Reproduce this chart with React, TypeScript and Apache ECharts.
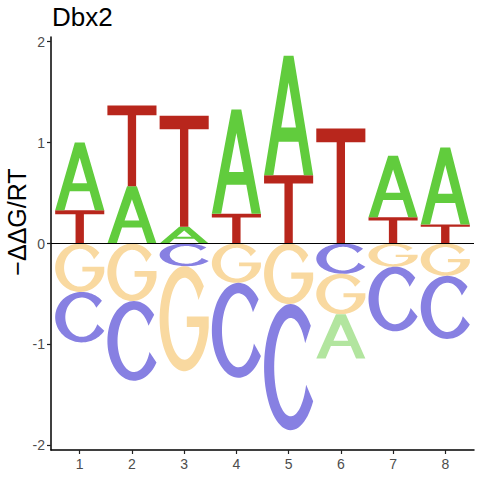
import React, { useEffect, useRef } from "react";
import * as echarts from "echarts";

// ---- data ----
const POSITIONS = [1, 2, 3, 4, 5, 6, 7, 8];
const LETTERS = ["A", "C", "G", "T"];
const A_VALUES = [0.67, 0.567, 0.165, 1.033, 1.185, -0.44, 0.61, 0.762];
const C_VALUES = [-0.5, -0.79, -0.225, -0.94, -1.25, -0.3, -0.64, -0.625];
const G_VALUES = [-0.48, -0.57, -1.04, -0.39, -0.6, -0.4, -0.23, -0.32];
const T_VALUES = [0.33, 0.8, 1.1, 0.294, 0.676, 1.139, 0.26, 0.188];
const Y_TICKS = [-2, -1, 0, 1, 2];
const TITLE = "Dbx2";
const Y_NAME = "\u2212\u0394\u0394G/RT";

const POS_COLORS = ["#61CC3D", "#8780E2", "#F3B341", "#B8261C"];
const NEG_COLORS = ["#B2E59F", "#8780E2", "#F9D9A0", "#DC9089"];

// ---- glyph outlines (unit box 0..100) ----
function arcPts(cx: number, cy: number, rx: number, ry: number, t0: number, t1: number, n: number) {
  const pts: string[] = [];
  for (let i = 0; i <= n; i++) {
    const t = ((t0 + ((t1 - t0) * i) / n) * Math.PI) / 180;
    pts.push((cx + rx * Math.cos(t)).toFixed(2) + "," + (cy + ry * Math.sin(t)).toFixed(2));
  }
  return pts;
}
function buildC() {
  const outer = arcPts(50, 50, 50, 50, -41, -327.3, 64);
  const inner = arcPts(50, 50, 31, 39, -339, -29, 64);
  return "M" + outer.join(" L") + " L" + inner.join(" L") + " Z";
}
function buildG() {
  const outer = arcPts(50, 50, 50, 50, -38, -350, 64);
  const end = (50 + 50 * Math.cos((10 * Math.PI) / 180)).toFixed(2);
  const tIn = Math.acos(30 / 32);
  const tInDeg = (tIn * 180) / Math.PI;
  const yIn = (50 + 39 * Math.sin(tIn)).toFixed(2);
  const inner = arcPts(50, 50, 32, 39, tInDeg - 360, -27, 64);
  return (
    "M" + outer.join(" L") +
    ` L${end},48 L55,48 L55,58 L80,58 L80,${yIn} L` +
    inner.join(" L") + " Z"
  );
}
const PATH_A =
  "M0,100 L40,0 L60,0 L100,100 L81,100 L70.2,72 L29.8,72 L19,100 Z M35,60 L65,60 L50,22.5 Z";
const PATH_T = "M0,0 L100,0 L100,12 L58.5,12 L58.5,100 L41.5,100 L41.5,12 L0,12 Z";
const LETTER_PATHS = [PATH_A, buildC(), buildG(), PATH_T];

const LETTER_WIDTH = 0.94;

function buildItems() {
  const all = [A_VALUES, C_VALUES, G_VALUES, T_VALUES];
  const items: number[][] = [];
  POSITIONS.forEach((p, i) => {
    const vals = all.map((arr, li) => ({ li, v: arr[i] }));
    const pos = vals.filter((d) => d.v > 0).sort((a, b) => a.v - b.v);
    const neg = vals.filter((d) => d.v < 0).sort((a, b) => b.v - a.v);
    let acc = 0;
    pos.forEach((d) => {
      items.push([p, acc, acc + d.v, d.li, 0]);
      acc += d.v;
    });
    acc = 0;
    neg.forEach((d) => {
      items.push([p, acc, acc + d.v, d.li, 1]);
      acc += d.v;
    });
  });
  return items;
}

const FONT = "'Liberation Sans', Arial, Helvetica, sans-serif";

export default function App() {
  const ref = useRef<HTMLDivElement>(null);
  useEffect(() => {
    if (!ref.current) return;
    const chart = echarts.init(ref.current, null, { renderer: "svg" });
    const items = buildItems();
    chart.setOption({
      animation: false,
      backgroundColor: "#fff",
      title: {
        text: TITLE,
        left: 52,
        top: 4,
        padding: 0,
        textStyle: { fontSize: 26, fontWeight: "normal", color: "#000", fontFamily: FONT },
      },
      grid: { left: 51, right: 6, top: 37, bottom: 30, containLabel: false },
      xAxis: {
        type: "value",
        min: 0.45,
        max: 8.55,
        splitLine: { show: false },
        axisLine: { show: true, onZero: false, lineStyle: { color: "#000", width: 1.5 } },
        axisTick: { show: true, length: 4, customValues: POSITIONS, lineStyle: { color: "#222", width: 1.2 } },
        axisLabel: {
          customValues: POSITIONS,
          margin: 7,
          color: "#4D4D4D",
          fontSize: 14,
          fontFamily: FONT,
        },
      },
      yAxis: {
        type: "value",
        min: -2.046,
        max: 2.046,
        splitLine: { show: false },
        axisLine: { show: true, onZero: false, lineStyle: { color: "#000", width: 1.5 } },
        axisTick: { show: true, length: 4, customValues: Y_TICKS, lineStyle: { color: "#222", width: 1.2 } },
        axisLabel: {
          customValues: Y_TICKS,
          margin: 6,
          color: "#4D4D4D",
          fontSize: 14,
          fontFamily: FONT,
          formatter: (v: number) => String(v),
        },
      },
      graphic: [
        {
          type: "text",
          x: 17,
          y: 222,
          rotation: Math.PI / 2,
          style: {
            text: Y_NAME,
            fontSize: 25,
            fontFamily: FONT,
            fill: "#000",
            align: "center",
            verticalAlign: "middle",
          },
        },
      ],
      series: [
        {
          type: "custom",
          data: items,
          encode: { x: 0, y: [1, 2] },
          renderItem: (params: any, api: any) => {
            const p = api.value(0);
            const y0 = api.value(1);
            const y1 = api.value(2);
            const li = api.value(3);
            const neg = api.value(4);
            const tl = api.coord([p - LETTER_WIDTH / 2, Math.max(y0, y1)]);
            const br = api.coord([p + LETTER_WIDTH / 2, Math.min(y0, y1)]);
            return {
              type: "path",
              shape: {
                pathData: LETTER_PATHS[li],
                x: tl[0],
                y: tl[1],
                width: br[0] - tl[0],
                height: br[1] - tl[1],
                layout: "cover",
              },
              style: { fill: neg ? NEG_COLORS[li] : POS_COLORS[li] },
            };
          },
          markLine: {
            silent: true,
            symbol: "none",
            label: { show: false },
            lineStyle: { color: "#000", width: 1, type: "solid" },
            data: [{ yAxis: 0 }],
          },
        },
      ],
    });
    return () => chart.dispose();
  }, []);
  return (
    <div
      ref={ref}
      style={{ position: "absolute", left: 0, top: 0, width: 480, height: 480 }}
    />
  );
}
